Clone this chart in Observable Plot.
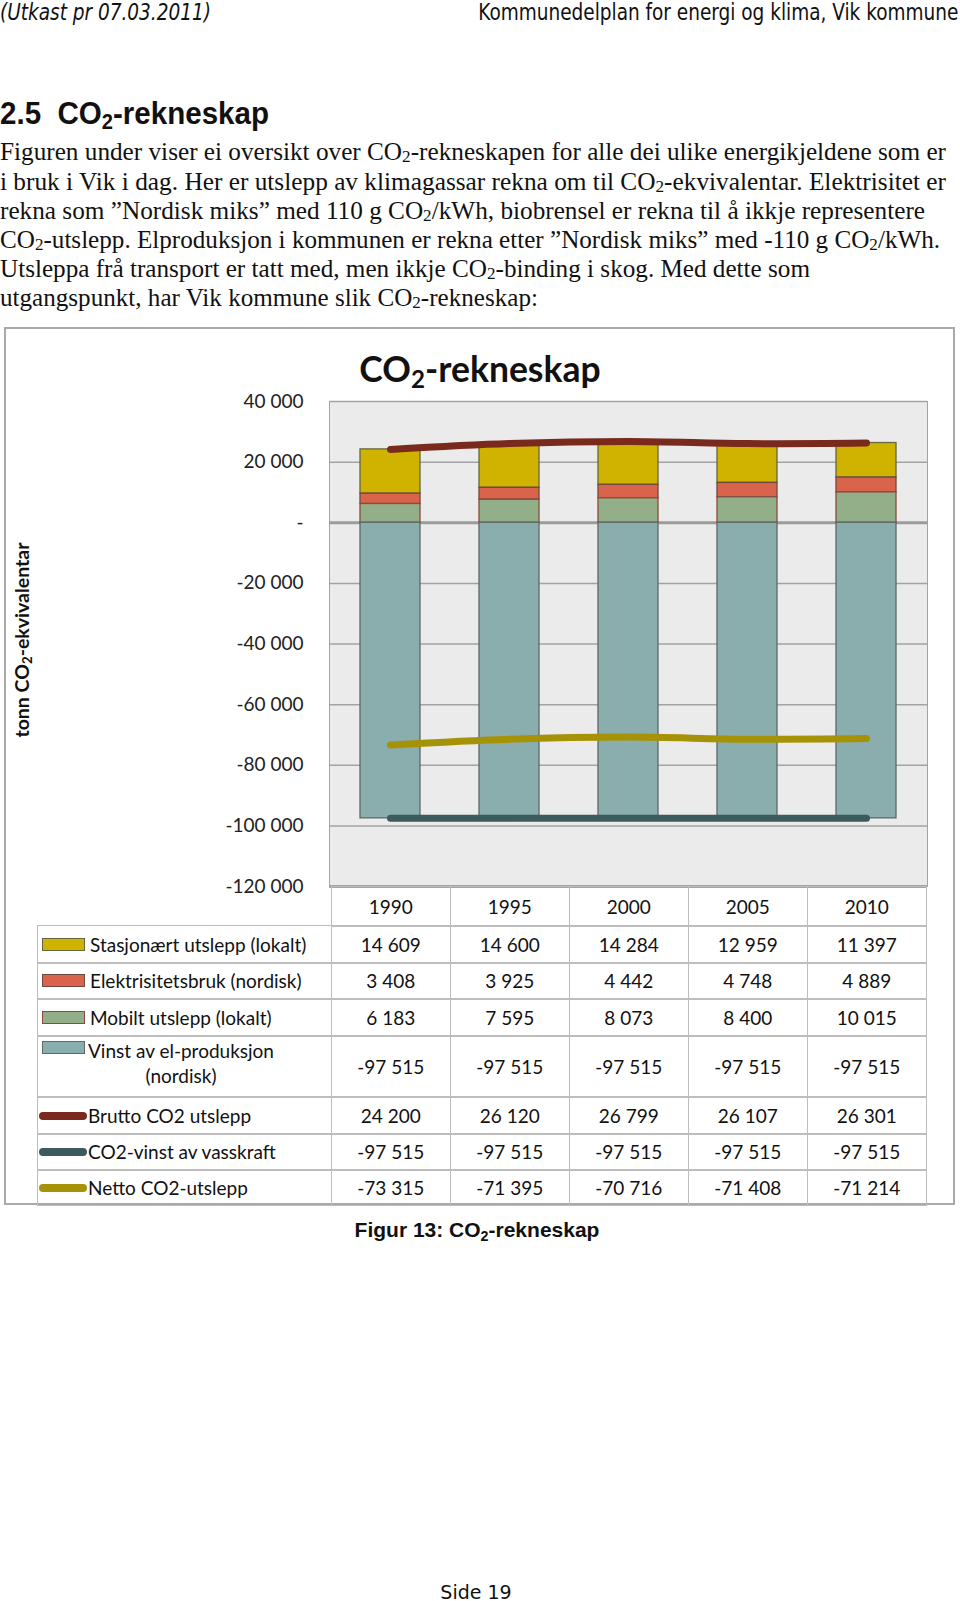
<!DOCTYPE html>
<html>
<head>
<meta charset="utf-8">
<script src="https://cdn.jsdelivr.net/npm/d3@7"></script>
<script src="https://cdn.jsdelivr.net/npm/@observablehq/plot@0.6"></script>
<style>
  html, body { margin: 0; padding: 0; background: #fff; }
  body { width: 960px; height: 1601px; position: relative; overflow: hidden; color: #111; }
  .abs { position: absolute; white-space: nowrap; }
  .cond { font-family: "DejaVu Sans Condensed", "DejaVu Sans", sans-serif; }
  .serif { font-family: "Liberation Serif", "Times New Roman", serif; font-size: 24.5px; line-height: 25px; }
  .serif sub { vertical-align: -0.15em; }
  .cal { font-family: Lato, "Open Sans", sans-serif; }
  sub { font-size: 0.68em; vertical-align: -0.25em; line-height: 0; }
  .cell { position: absolute; box-sizing: border-box; border: 1.5px solid #BDBDBD; display: flex; align-items: center; justify-content: center; font-family: Lato, sans-serif; font-size: 19px; color: #111; }
  .lab { position: absolute; box-sizing: border-box; border: 1.5px solid #BDBDBD; font-family: Lato, sans-serif; font-size: 19px; color: #111; }
</style>
</head>
<body>
<div id="page"></div>
<script>
// ---------- data ----------
const years = ["1990", "1995", "2000", "2005", "2010"];
const stasjonaert = [14609, 14600, 14284, 12959, 11397];
const elektrisitet = [3408, 3925, 4442, 4748, 4889];
const mobilt = [6183, 7595, 8073, 8400, 10015];
const vinst = [-97515, -97515, -97515, -97515, -97515];
const brutto = [24200, 26120, 26799, 26107, 26301];
const vasskraft = [-97515, -97515, -97515, -97515, -97515];
const netto = [-73315, -71395, -70716, -71408, -71214];
const barSeries = ["Stasjonært utslepp (lokalt)", "Elektrisitetsbruk (nordisk)", "Mobilt utslepp (lokalt)", "Vinst av el-produksjon (nordisk)"];
const lineSeries = ["Brutto CO2 utslepp", "CO2-vinst av vasskraft", "Netto CO2-utslepp"];
const barFills = ["#CFB300", "#D9644B", "#92AF89", "#8AADAD"];
const barStrokes = ["#65683F", "#6E4A40", "#8A4B3C", "#5E6969"];
const lineColors = ["#7A2A1C", "#3D5A5D", "#A69206"];
const stackOrder = ["Mobilt utslepp (lokalt)", "Elektrisitetsbruk (nordisk)", "Stasjonært utslepp (lokalt)", "Vinst av el-produksjon (nordisk)"];
const yTicks = [40000, 20000, 0, -20000, -40000, -60000, -80000, -100000, -120000];

// ---------- helpers ----------
const fmtNum = v => d3.format(",")(v).replace(/,/g, " ").replace("−", "-");
const fmtTick = v => v === 0 ? "-" : fmtNum(v);
const page = document.getElementById("page");
function add(html, cls, style) {
  const el = document.createElement("div");
  el.className = "abs " + (cls || "");
  el.innerHTML = html;
  Object.assign(el.style, style || {});
  page.appendChild(el);
  return el;
}
const fits = [];
function fitW(el, w, origin) { fits.push([el, w, origin || "left center"]); }
function applyFits() {
  for (const [el, w, o] of fits) {
    el.style.transform = "none";
    const r = el.getBoundingClientRect().width;
    el.style.transformOrigin = o;
    el.style.transform = `scaleX(${w / r})`;
  }
}

// ---------- page text ----------
fitW(add("(Utkast pr 07.03.2011)", "cond", {left: "0px", top: "-1px", fontSize: "23px", fontStyle: "italic", lineHeight: "26px"}), 211);
fitW(add("Kommunedelplan for energi og klima, Vik kommune", "cond", {right: "2px", top: "-1px", fontSize: "23px", lineHeight: "26px"}), 480, "right center");
fitW(add("2.5&nbsp;&nbsp;CO<sub>2</sub>-rekneskap", "", {left: "0px", top: "96px", fontFamily: "'Liberation Sans', Arial, sans-serif", fontWeight: "bold", fontSize: "32px", lineHeight: "34px"}), 269);

const para = [
  ["Figuren under viser ei oversikt over CO<sub>2</sub>-rekneskapen for alle dei ulike energikjeldene som er", 946],
  ["i bruk i Vik i dag. Her er utslepp av klimagassar rekna om til CO<sub>2</sub>-ekvivalentar. Elektrisitet er", 946],
  ["rekna som ”Nordisk miks” med 110 g CO<sub>2</sub>/kWh, biobrensel er rekna til å ikkje representere", 925],
  ["CO<sub>2</sub>-utslepp. Elproduksjon i kommunen er rekna etter ”Nordisk miks” med -110 g CO<sub>2</sub>/kWh.", 940],
  ["Utsleppa frå transport er tatt med, men ikkje CO<sub>2</sub>-binding i skog. Med dette som", 810],
  ["utgangspunkt, har Vik kommune slik CO<sub>2</sub>-rekneskap:", 538]
];
const paraY = [151.5, 181, 210, 239.5, 268.5, 297];
para.forEach(([t, w], i) => fitW(add(t, "serif", {left: "0px", top: (paraY[i] - 12.5) + "px"}), w));

// chart frame
add("", "", {left: "4px", top: "327px", width: "947px", height: "874px", border: "2px solid #A9A9A9"});

// chart title
add("CO<sub>2</sub>-rekneskap", "cal", {left: "480px", top: "348px", transform: "translateX(-50%)", fontSize: "35.5px", fontWeight: "bold", lineHeight: "42px"});

// y-axis title
add("tonn CO<sub>2</sub>-ekvivalentar", "cal", {left: "22px", top: "640px", transform: "translate(-50%,-50%) rotate(-90deg)", fontSize: "19.5px", fontWeight: "bold", lineHeight: "22px"});

// ---------- plot ----------
const barData = [];
[stasjonaert, elektrisitet, mobilt, vinst].forEach((arr, i) =>
  years.forEach((yr, j) => barData.push({year: yr, series: barSeries[i], value: arr[j], fill: barFills[i], stroke: barStrokes[i]})));
const lineData = [];
[brutto, vasskraft, netto].forEach((arr, i) =>
  years.forEach((yr, j) => lineData.push({year: yr, series: lineSeries[i], value: arr[j], color: lineColors[i]})));

const SVG_TOP = 327;
const chart = Plot.plot({
  width: 960, height: 559,
  marginLeft: 329, marginRight: 33, marginTop: 74, marginBottom: 0,
  style: {fontFamily: "Lato, sans-serif", fontSize: "19px", color: "#222", background: "transparent", overflow: "visible"},
  x: {domain: years, paddingInner: 0.5, paddingOuter: 0.25, axis: null},
  y: {domain: [-120000, 40000], ticks: yTicks, tickFormat: fmtTick, tickSize: 0, tickPadding: 26, label: null},
  color: {type: "identity"},
  marks: [
    Plot.frame({fill: "#EBEBEB", stroke: "#A3A3A3"}),
    Plot.gridY(yTicks, {stroke: "#A3A3A3", strokeOpacity: 1, strokeWidth: 1.5}),
    Plot.ruleY([0], {stroke: "#9C9C9C", strokeWidth: 3}),
    Plot.barY(barData, {x: "year", y: "value", z: "series", order: stackOrder, fill: "fill", stroke: "stroke", strokeWidth: 1.3}),
    Plot.line(lineData, {x: "year", y: "value", z: "series", stroke: "color", strokeWidth: 7, strokeLinecap: "round", strokeLinejoin: "round", curve: "catmull-rom"}),
    Plot.ruleY([-120000], {stroke: "#A3A3A3", strokeWidth: 3})
  ]
});
chart.style.position = "absolute";
chart.style.left = "0px";
chart.style.top = SVG_TOP + "px";
page.appendChild(chart);

// ---------- data table (aligned on the plot's x scale) ----------
const xs = chart.scale("x");
const step = xs.step, bw = xs.bandwidth;
const colLeft = yr => xs.apply(yr) - (step - bw) / 2;
const rowH = [39, 37, 36, 37, 61, 37, 36, 35];
const rowTop = [];
let acc = 886;
rowH.forEach(h => { rowTop.push(acc); acc += h; });

function cell(text, x, y, w, h) {
  const el = document.createElement("div");
  el.className = "cell";
  Object.assign(el.style, {left: x + "px", top: y + "px", width: (w + 1.5) + "px", height: (h + 1.5) + "px"});
  el.innerHTML = text;
  page.appendChild(el);
}
// header years
years.forEach(yr => cell(yr, colLeft(yr), rowTop[0], step, rowH[0]));
const rows = [
  {name: barSeries[0], vals: stasjonaert, kind: "rect", fill: barFills[0], stroke: barStrokes[0]},
  {name: barSeries[1], vals: elektrisitet, kind: "rect", fill: barFills[1], stroke: barStrokes[1]},
  {name: barSeries[2], vals: mobilt, kind: "rect", fill: barFills[2], stroke: barStrokes[2]},
  {name: barSeries[3], vals: vinst, kind: "rect", fill: barFills[3], stroke: barStrokes[3]},
  {name: lineSeries[0], vals: brutto, kind: "line", fill: lineColors[0]},
  {name: lineSeries[1], vals: vasskraft, kind: "line", fill: lineColors[1]},
  {name: lineSeries[2], vals: netto, kind: "line", fill: lineColors[2]}
];
const tableLeft = 37;
const firstCol = colLeft(years[0]);
rows.forEach((r, i) => {
  const top = rowTop[i + 1], h = rowH[i + 1];
  const lab = document.createElement("div");
  lab.className = "lab";
  Object.assign(lab.style, {left: tableLeft + "px", top: top + "px", width: (firstCol - tableLeft + 1.5) + "px", height: (h + 1.5) + "px"});
  page.appendChild(lab);
  const swTop = (i === 3) ? 12 : h / 2;
  const sw = document.createElement("div");
  sw.style.position = "absolute";
  if (r.kind === "rect") {
    Object.assign(sw.style, {left: "4px", top: (swTop - 7) + "px", width: "43px", height: "13px", background: r.fill, border: "1.5px solid " + r.stroke, boxSizing: "border-box"});
  } else {
    Object.assign(sw.style, {left: "1px", top: (h / 2 - 4) + "px", width: "48px", height: "8px", background: r.fill, borderRadius: "4px"});
  }
  lab.appendChild(sw);
  const tx = document.createElement("div");
  tx.style.position = "absolute";
  tx.style.whiteSpace = "nowrap";
  if (i === 3) {
    Object.assign(tx.style, {left: "50px", top: "2px", lineHeight: "25px", textAlign: "center"});
    tx.innerHTML = "Vinst av el-produksjon<br>(nordisk)";
  } else {
    Object.assign(tx.style, {left: (r.kind === "rect" ? 52 : 50) + "px", top: "0px", lineHeight: h + "px"});
    tx.textContent = r.name;
  }
  lab.appendChild(tx);
  years.forEach((yr, j) => cell(fmtNum(r.vals[j]), colLeft(yr), top, step, h));
});

// caption & footer
add("Figur 13: CO<sub>2</sub>-rekneskap", "", {left: "477px", top: "1217px", transform: "translateX(-50%)", fontFamily: "'Liberation Sans', Arial, sans-serif", fontWeight: "bold", fontSize: "21px", lineHeight: "26px"});
add("Side 19", "", {left: "476px", top: "1580px", transform: "translateX(-50%)", fontFamily: "'DejaVu Sans', sans-serif", fontSize: "19px", lineHeight: "24px"});

applyFits();
if (document.fonts && document.fonts.ready) document.fonts.ready.then(applyFits);
</script>
</body>
</html>
